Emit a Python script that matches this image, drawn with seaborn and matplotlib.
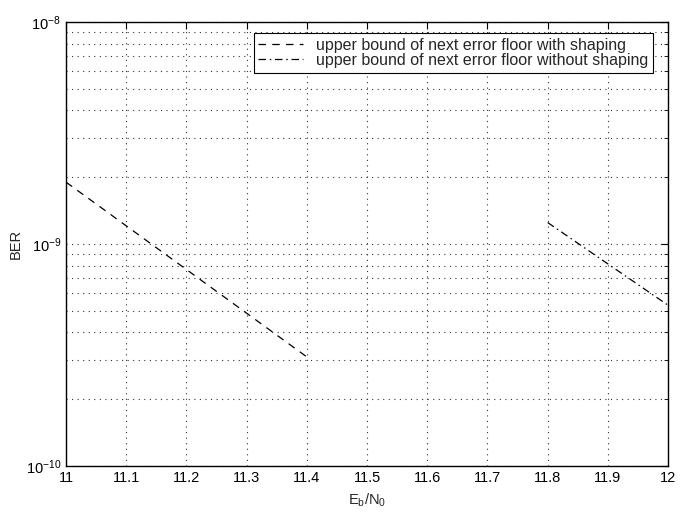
import numpy as np
import pandas as pd
import matplotlib
matplotlib.use("Agg")
import matplotlib.pyplot as plt
from matplotlib.ticker import LogLocator, NullFormatter, FixedLocator
import seaborn as sns

# Data
ebn0_shaping = [11.0, 11.4]
ber_shaping = [1.9e-9, 3.1e-10]
ebn0_noshaping = [11.8, 12.0]
ber_noshaping = [1.25e-9, 5.3e-10]
label_shaping = "upper bound of next error floor with shaping"
label_noshaping = "upper bound of next error floor without shaping"
xticks = [11, 11.1, 11.2, 11.3, 11.4, 11.5, 11.6, 11.7, 11.8, 11.9, 12]
xticklabels = ["11", "11.1", "11.2", "11.3", "11.4", "11.5", "11.6", "11.7", "11.8", "11.9", "12"]

sns.set_style("white")
plt.rcParams['font.family'] = ['Liberation Sans', 'DejaVu Sans']
plt.rcParams['mathtext.fontset'] = 'custom'
plt.rcParams['mathtext.rm'] = 'Liberation Sans'

fig = plt.figure(figsize=(6.81, 5.21), dpi=100)
ax = fig.add_axes([0.097, 0.1056, 0.884, 0.852])

sns.lineplot(x=ebn0_shaping, y=ber_shaping, ax=ax, color='k', linewidth=0.9,
             label=label_shaping)
ax.lines[-1].set_dashes([6, 5])
sns.lineplot(x=ebn0_noshaping, y=ber_noshaping, ax=ax, color='k', linewidth=0.9,
             label=label_noshaping)
ax.lines[-1].set_dashes([6, 3, 1.2, 3])

ax.set_yscale('log')
ax.set_xlim(11, 12)
ax.set_ylim(1e-10, 1e-8)
ax.xaxis.set_major_locator(FixedLocator(xticks))
ax.set_xticklabels(xticklabels)
ax.yaxis.set_major_locator(LogLocator(base=10, numticks=10))
ax.yaxis.set_minor_locator(LogLocator(base=10, subs=np.arange(2, 10), numticks=20))
ax.yaxis.set_minor_formatter(NullFormatter())

ax.grid(True, which='major', axis='both', linestyle=(0, (1, 4)), color='#333333', linewidth=0.8)
ax.grid(True, which='minor', axis='y', linestyle=(0, (1, 4)), color='#333333', linewidth=0.8)

ax.tick_params(which='both', direction='in', top=True, right=True, labelsize=10.5, colors='k')
ax.tick_params(which='major', length=5, width=0.8)
ax.tick_params(which='minor', length=3, width=0.6)
for s in ax.spines.values():
    s.set_color('k')
    s.set_linewidth(1.0)

ax.set_ylabel("BER", fontsize=10.5, labelpad=2)
ax.set_xlabel(r"E$_\mathrm{b}$/N$_\mathrm{0}$", fontsize=10.5, labelpad=5)

leg = ax.legend(loc='upper right', bbox_to_anchor=(0.975, 0.975), fontsize=11.5, frameon=True,
                fancybox=False, edgecolor='k', framealpha=1, handlelength=2.8,
                labelspacing=0.0, borderpad=0.3, handletextpad=0.8, borderaxespad=0.0)
leg.get_frame().set_linewidth(0.8)

fig.savefig("out.png", dpi=100)
